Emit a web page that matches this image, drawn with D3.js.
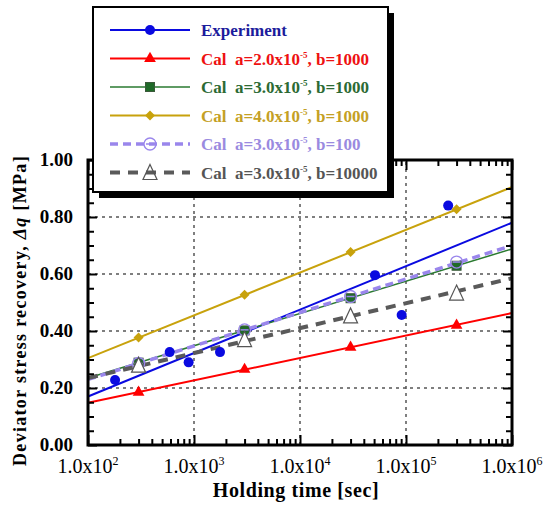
<!DOCTYPE html>
<html>
<head>
<meta charset="utf-8">
<script src="https://cdn.jsdelivr.net/npm/d3@7"></script>
<style>
  body { margin: 0; background: #fff; }
</style>
</head>
<body>
<script>
// chart values
const xTicks = [1e2, 1e3, 1e4, 1e5, 1e6];
const xTickExp = ["2", "3", "4", "5", "6"];
const yTicks = [0, 0.2, 0.4, 0.6, 0.8, 1.0];

const markTimes = [300, 3000, 30000, 300000];
const lineEnds = [100, 1000000];

const expTimes = [180, 590, 890, 1760, 51000, 91000, 250000];
const expValues = [0.228, 0.326, 0.29, 0.326, 0.596, 0.456, 0.84];
const expLine = [0.17, 0.78];

const calA2Line = [0.148, 0.463];
const calA2Marks = [0.185, 0.265, 0.343, 0.42];
const calA3Line = [0.235, 0.688];
const calA3Marks = [0.289, 0.402, 0.515, 0.629];
const calA4Line = [0.305, 0.905];
const calA4Marks = [0.377, 0.527, 0.677, 0.827];
const calB100Line = [0.23, 0.70];
const calB100Marks = [0.286, 0.404, 0.521, 0.642];
const calB10000Line = [0.235, 0.585];
const calB10000Marks = [0.28, 0.37, 0.453, 0.533];

const legendNames = ["Experiment", "a=2.0x10", "a=3.0x10", "a=4.0x10", "a=3.0x10", "a=3.0x10"];
const legendB = ["", ", b=1000", ", b=1000", ", b=1000", ", b=100", ", b=10000"];

const width = 547, height = 506;
const margin = {left: 88, right: 35, top: 160, bottom: 61};

let svg = d3.select("body").append("svg")
  .attr("width", width)
  .attr("height", height)
  .attr("font-family", "Liberation Serif");

let x = d3.scaleLog()
  .domain([1e2, 1e6])
  .range([margin.left, width - margin.right]);

let y = d3.scaleLinear()
  .domain([0, 1])
  .range([height - margin.bottom, margin.top]);

// grid (dotted)
let grid = svg.append("g");
grid.selectAll("line.gx")
  .data([1e3, 1e4, 1e5])
  .enter().append("line")
    .attr("x1", d => x(d)).attr("x2", d => x(d))
    .attr("y1", y(0)).attr("y2", y(1))
    .attr("stroke", "#555").attr("stroke-width", 1.5)
    .attr("stroke-dasharray", "3,4");
grid.selectAll("line.gy")
  .data([0.2, 0.4, 0.6, 0.8])
  .enter().append("line")
    .attr("x1", x(1e2)).attr("x2", x(1e6))
    .attr("y1", d => y(d)).attr("y2", d => y(d))
    .attr("stroke", "#555").attr("stroke-width", 1.5)
    .attr("stroke-dasharray", "3,4");

// series definitions
const series = [
  {color: "#0a0ae0", text: "#1c1c9c", width: 2, dash: null, lineVals: expLine, times: expTimes, vals: expValues, marker: "circle"},
  {color: "#ff0000", text: "#ee1111", width: 2, dash: null, lineVals: calA2Line, times: markTimes, vals: calA2Marks, marker: "triangle"},
  {color: "#2a7a30", text: "#2c6a34", width: 1.5, dash: null, lineVals: calA3Line, times: markTimes, vals: calA3Marks, marker: "square"},
  {color: "#c8a20c", text: "#c4a024", width: 2, dash: null, lineVals: calA4Line, times: markTimes, vals: calA4Marks, marker: "diamond"},
  {color: "#9a86ec", text: "#9a8ae0", width: 3.5, dash: "8,5", lineVals: calB100Line, times: markTimes, vals: calB100Marks, marker: "ocircle"},
  {color: "#5a5a5a", text: "#555555", width: 4, dash: "10,8", lineVals: calB10000Line, times: markTimes, vals: calB10000Marks, marker: "otriangle"}
];

const line = d3.line().x(d => x(d[0])).y(d => y(d[1]));

function drawMarker(g, kind, color) {
  if (kind === "circle") {
    g.append("circle").attr("r", 5).attr("fill", color);
  } else if (kind === "triangle") {
    g.append("path").attr("d", d3.symbol(d3.symbolTriangle, 60)()).attr("fill", color);
  } else if (kind === "square") {
    g.append("rect").attr("x", -4.5).attr("y", -4.5).attr("width", 9).attr("height", 9)
      .attr("fill", "#1f6a28").attr("stroke", "#3a5a3a").attr("stroke-width", 1);
  } else if (kind === "diamond") {
    g.append("path").attr("d", "M0,-5L5,0L0,5L-5,0Z").attr("fill", color);
  } else if (kind === "ocircle") {
    g.append("circle").attr("r", 6).attr("fill", "none").attr("stroke", color).attr("stroke-width", 1.3);
    g.append("line").attr("x1", -4).attr("x2", 4).attr("stroke", color).attr("stroke-width", 1.5);
  } else if (kind === "otriangle") {
    g.append("path").attr("d", "M0,-8L7,7L-7,7Z")
      .attr("fill", "#fff").attr("stroke", "#555").attr("stroke-width", 1.2);
  }
}

// lines and markers
series.forEach(s => {
  svg.append("path")
    .datum(lineEnds.map((t, i) => [t, s.lineVals[i]]))
    .attr("d", line)
    .attr("fill", "none")
    .attr("stroke", s.color)
    .attr("stroke-width", s.width)
    .attr("stroke-dasharray", s.dash);
});
series.forEach(s => {
  s.times.forEach((t, i) => {
    let g = svg.append("g").attr("transform", `translate(${x(t)},${y(s.vals[i])})`);
    drawMarker(g, s.marker, s.color);
  });
});

// axes with inward ticks
const minorX = [];
[1e2, 1e3, 1e4, 1e5].forEach(d => { for (let k = 2; k <= 9; k++) minorX.push(d * k); });
const minorY = d3.range(0, 1.001, 0.05).filter(v => Math.abs(v * 5 - Math.round(v * 5)) > 1e-6);

function axisG(axis, tx, ty) {
  let g = svg.append("g").attr("transform", `translate(${tx},${ty})`).call(axis);
  g.selectAll("text").remove();
  g.select(".domain").remove();
  g.selectAll("line").attr("stroke", "#000").attr("stroke-width", 2);
  return g;
}
axisG(d3.axisBottom(x).tickValues(xTicks).tickSize(-10), 0, y(0));
axisG(d3.axisBottom(x).tickValues(minorX).tickSize(-6), 0, y(0));
axisG(d3.axisTop(x).tickValues(xTicks).tickSize(-10), 0, y(1));
axisG(d3.axisTop(x).tickValues(minorX).tickSize(-6), 0, y(1));
axisG(d3.axisLeft(y).tickValues(yTicks).tickSize(-9), x(1e2), 0);
axisG(d3.axisLeft(y).tickValues(minorY).tickSize(-6), x(1e2), 0);
axisG(d3.axisRight(y).tickValues(yTicks).tickSize(-9), x(1e6), 0);
axisG(d3.axisRight(y).tickValues(minorY).tickSize(-6), x(1e6), 0);

// frame
svg.append("rect")
  .attr("x", x(1e2)).attr("y", y(1))
  .attr("width", x(1e6) - x(1e2)).attr("height", y(0) - y(1))
  .attr("fill", "none").attr("stroke", "#000").attr("stroke-width", 3);

// tick labels
svg.selectAll("text.xt")
  .data(xTicks)
  .enter().append("text")
    .attr("x", d => x(d))
    .attr("y", y(0) + 28)
    .attr("text-anchor", "middle")
    .attr("font-size", 20)
    .each(function(d, i) {
      let t = d3.select(this);
      t.append("tspan").text("1.0x10");
      t.append("tspan").attr("dy", -8).attr("font-size", 12).text(xTickExp[i]);
    });

svg.selectAll("text.yt")
  .data(yTicks)
  .enter().append("text")
    .attr("x", x(1e2) - 15)
    .attr("y", d => y(d) + 6)
    .attr("text-anchor", "end")
    .attr("font-size", 19)
    .attr("font-weight", "bold")
    .text(d => d3.format(".2f")(d));

// axis titles
svg.append("text")
  .attr("x", 296).attr("y", 497)
  .attr("text-anchor", "middle")
  .attr("font-size", 20).attr("font-weight", "bold")
  .attr("letter-spacing", 0.6)
  .text("Holding time [sec]");

let yl = svg.append("text")
  .attr("transform", `translate(26,${(y(0) + y(1)) / 2 + 8}) rotate(-90)`)
  .attr("text-anchor", "middle")
  .attr("font-size", 18).attr("font-weight", "bold")
  .attr("letter-spacing", 1.3);
yl.append("tspan").text("Deviator stress recovery, ");
yl.append("tspan").attr("font-style", "italic").text("\u0394q");
yl.append("tspan").text(" [MPa]");

// legend
const lg = svg.append("g");
lg.append("rect").attr("x", 99).attr("y", 13).attr("width", 295).attr("height", 185).attr("fill", "#000");
lg.append("rect").attr("x", 93).attr("y", 7).attr("width", 295).attr("height", 185)
  .attr("fill", "#fff").attr("stroke", "#000").attr("stroke-width", 2);

series.forEach((s, i) => {
  let ry = 30 + i * 28.5;
  lg.append("line")
    .attr("x1", 110).attr("x2", 190).attr("y1", ry).attr("y2", ry)
    .attr("stroke", s.color).attr("stroke-width", s.width)
    .attr("stroke-dasharray", s.dash);
  let g = lg.append("g").attr("transform", `translate(150,${ry})`);
  drawMarker(g, s.marker, s.color);
  if (s.marker === "otriangle") g.select("path").attr("fill", "none");
  let t = lg.append("text")
    .attr("x", 201).attr("y", ry + 6)
    .attr("font-size", 17).attr("font-weight", "bold")
    .attr("fill", s.text)
    .style("white-space", "pre");
  if (i === 0) {
    t.text(legendNames[i]);
  } else {
    t.append("tspan").text("Cal  " + legendNames[i]);
    t.append("tspan").attr("dy", -7).attr("font-size", 9).text("-5");
    t.append("tspan").attr("dy", 7).text(legendB[i]);
  }
});
</script>
</body>
</html>
